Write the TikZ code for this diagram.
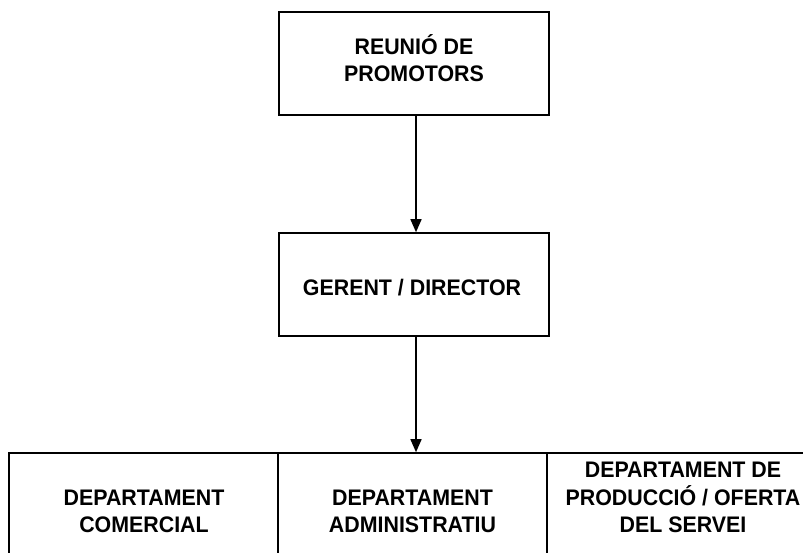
\documentclass[tikz,border=0pt]{standalone}
\usepackage{fontspec}
\setmainfont{Liberation Sans}[FakeStretch=0.95]
\usetikzlibrary{arrows.meta,calc}
\begin{document}
\begin{tikzpicture}[x=1pt,y=-1pt,
  box/.style={draw=black,line width=1.6pt,rectangle,inner sep=0pt},
  lbl/.style={align=center,inner sep=0pt,font=\fontsize{22.5}{27.2}\selectfont\bfseries},
  conn/.style={line width=1.5pt,-{Triangle[length=13pt,width=11pt]}}]
\clip (0,0) rectangle (803,552);
\fill[white] (0,0) rectangle (803,552);
% boxes
\node[box,minimum width=270pt,minimum height=103pt] (prom) at (414,63.5) {};
\node[box,minimum width=270pt,minimum height=103pt] (ger) at (414,284.5) {};
\node[box,minimum width=269pt,minimum height=140pt] (com) at (143.5,523) {};
\node[box,minimum width=269pt,minimum height=140pt] (adm) at (412.5,523) {};
\node[box,minimum width=272pt,minimum height=140pt] (prod) at (683,523) {};
% texts
\node[lbl] (tprom) at (414,58) {REUNIÓ DE\\PROMOTORS};
\node[lbl] (tger) at (412,288) {GERENT / DIRECTOR};
\node[lbl] (tcom) at (144,511.5) {DEPARTAMENT\\COMERCIAL};
\node[lbl] (tadm) at (412.5,511.5) {DEPARTAMENT\\ADMINISTRATIU};
\node[lbl] (tprod) at (683,497.5) {DEPARTAMENT DE\\PRODUCCIÓ / OFERTA\\DEL SERVEI};
% connectors
\coordinate (a1) at ($(prom.south)+(2,0)$);
\coordinate (a2) at ($(ger.north)+(2,0)$);
\coordinate (b1) at ($(ger.south)+(2,0)$);
\coordinate (b2) at (b1 |- adm.north);
\draw[conn] (a1) -- (a2);
\draw[conn] (b1) -- (b2);
\end{tikzpicture}
\end{document}
